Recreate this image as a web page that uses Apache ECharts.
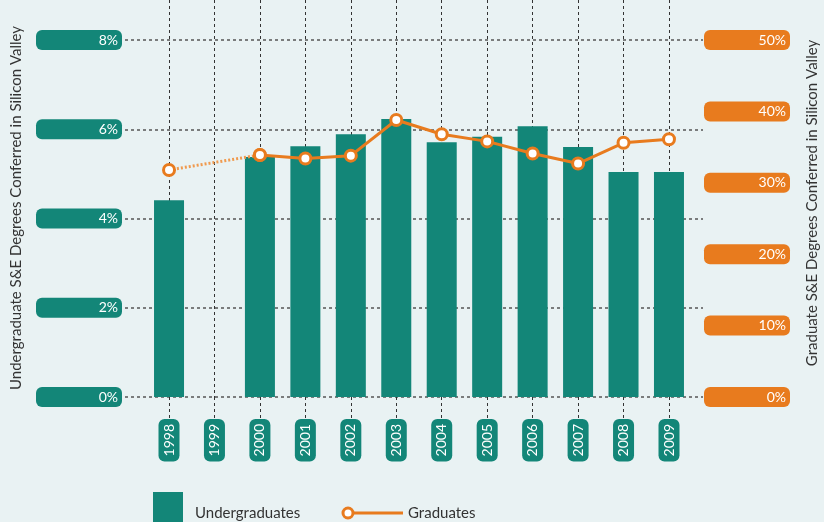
<!DOCTYPE html>
<html>
<head>
    <meta charset="utf-8">
    <title>Silicon Valley S&amp;E Degrees</title>
    <script src="https://cdn.jsdelivr.net/npm/echarts@6/dist/echarts.min.js"></script>
    <style>
        html, body { margin: 0; padding: 0; background: #e9f2f3; }
        #main { width: 824px; height: 522px; }
    </style>
</head>
<body>
<div id="main"></div>
<script type="text/javascript">
    // 数据
    var years = ['1998', '1999', '2000', '2001', '2002', '2003', '2004', '2005', '2006', '2007', '2008', '2009'];
    var undergrad = [4.41, null, 5.38, 5.62, 5.89, 6.23, 5.71, 5.83, 6.07, 5.60, 5.04, 5.04];   // 左轴 %
    var graduates = [31.8, null, 33.9, 33.4, 33.8, 38.8, 36.8, 35.8, 34.1, 32.7, 35.6, 36.1];   // 右轴 %
    var leftMax = 8, leftStep = 2;
    var rightMax = 50, rightStep = 10;

    var teal = '#138678';
    var orange = '#e87b1e';
    var font = 'Lato, "Open Sans", sans-serif';

    // 1999 缺数据：1998-2000 用虚线连接
    var gradSolid = graduates.map(function (v, i) { return i >= 2 ? v : null; });
    var gradDotted = graduates.map(function (v, i) { return i <= 2 ? v : null; });

    // 绘图区 0% 在 y=397，顶刻度在 y=40；数据网格顶端为 0
    var plotTop = 40, plotBottom = 397;
    var k = plotBottom / (plotBottom - plotTop);

    var myChart = echarts.init(document.getElementById('main'));
    myChart.setOption({
        backgroundColor: '#e9f2f3',
        textStyle: { fontFamily: font },
        grid: [
            { left: 125, right: 121, top: plotTop, bottom: 522 - plotBottom },   // 横向网格线与两侧刻度
            { left: 169, right: 155, top: 0, bottom: 522 - plotBottom },         // 纵向网格线与年份
            { left: 146.3, right: 132.3, top: 0, bottom: 522 - plotBottom }      // 柱与折线
        ],
        xAxis: [
            { gridIndex: 0, type: 'value', min: 0, max: 1, show: false },
            {
                gridIndex: 1, type: 'category', data: years, boundaryGap: false,
                axisLine: { show: false },
                axisTick: { show: true, length: 22, lineStyle: { type: [3, 3], color: '#333', width: 1 } },
                splitLine: { show: true, lineStyle: { type: [3, 3], color: '#333', width: 1 } },
                axisLabel: {
                    rotate: 90, margin: 22, color: '#fff', fontSize: 14, fontFamily: font,
                    backgroundColor: teal, borderRadius: 6, padding: [4, 5, 3, 5]
                }
            },
            { gridIndex: 2, type: 'category', data: years, show: false }
        ],
        yAxis: [
            {
                gridIndex: 0, type: 'value', min: 0, max: leftMax, interval: leftStep, position: 'left',
                axisLine: { show: false }, axisTick: { show: false },
                splitLine: { show: true, lineStyle: { type: [3, 3], color: '#555', width: 1.5 } },
                axisLabel: {
                    formatter: '{value}%', color: '#fff', fontSize: 14, fontFamily: font,
                    backgroundColor: teal, borderRadius: 6, padding: [2, 4, 2, 4],
                    width: 78, align: 'right', margin: 3, lineHeight: 16
                }
            },
            {
                gridIndex: 0, type: 'value', min: 0, max: rightMax, interval: rightStep, position: 'right',
                axisLine: { show: false }, axisTick: { show: false }, splitLine: { show: false },
                axisLabel: {
                    formatter: '{value}%', color: '#fff', fontSize: 14, fontFamily: font,
                    backgroundColor: orange, borderRadius: 6, padding: [2, 4, 2, 4],
                    width: 78, align: 'right', margin: 87, lineHeight: 16
                }
            },
            { gridIndex: 1, type: 'value', min: 0, max: 1, show: false },
            { gridIndex: 2, type: 'value', min: 0, max: leftMax * k, show: false },
            { gridIndex: 2, type: 'value', min: 0, max: rightMax * k, show: false }
        ],
        series: [
            {
                name: 'Undergraduates', type: 'bar', xAxisIndex: 2, yAxisIndex: 3,
                data: undergrad, barWidth: 30, itemStyle: { color: teal }
            },
            {
                name: 'Graduates', type: 'line', xAxisIndex: 2, yAxisIndex: 4,
                data: gradDotted, connectNulls: true,
                lineStyle: { color: '#f09a4e', width: 3, type: [2, 2] },
                symbol: 'circle', symbolSize: 11,
                itemStyle: { color: '#fff', borderColor: orange, borderWidth: 3 },
                z: 3
            },
            {
                name: 'Graduates', type: 'line', xAxisIndex: 2, yAxisIndex: 4,
                data: gradSolid,
                lineStyle: { color: orange, width: 3 },
                symbol: 'circle', symbolSize: 11,
                itemStyle: { color: '#fff', borderColor: orange, borderWidth: 3 },
                z: 4
            }
        ],
        graphic: [
            // 轴标题
            {
                type: 'text', x: 16, y: 208, rotation: Math.PI / 2,
                style: { text: 'Undergraduate S&E Degrees Conferred in Silicon Valley', fill: '#333',
                    font: '15px ' + font, align: 'center', verticalAlign: 'middle' }
            },
            {
                type: 'text', x: 812, y: 203, rotation: Math.PI / 2,
                style: { text: 'Graduate S&E Degrees Conferred in Silicon Valley', fill: '#333',
                    font: '15px ' + font, align: 'center', verticalAlign: 'middle' }
            },
            // 图例
            { type: 'rect', shape: { x: 153, y: 492, width: 30, height: 40 }, style: { fill: teal } },
            {
                type: 'text', x: 195, y: 513,
                style: { text: 'Undergraduates', fill: '#333', font: '15px ' + font, verticalAlign: 'middle' }
            },
            { type: 'line', shape: { x1: 348, y1: 513, x2: 403, y2: 513 }, style: { stroke: orange, lineWidth: 3 } },
            { type: 'circle', shape: { cx: 348, cy: 513, r: 5 }, style: { fill: '#fff', stroke: orange, lineWidth: 3 } },
            {
                type: 'text', x: 408, y: 513,
                style: { text: 'Graduates', fill: '#333', font: '15px ' + font, verticalAlign: 'middle' }
            }
        ]
    });
</script>
</body>
</html>
